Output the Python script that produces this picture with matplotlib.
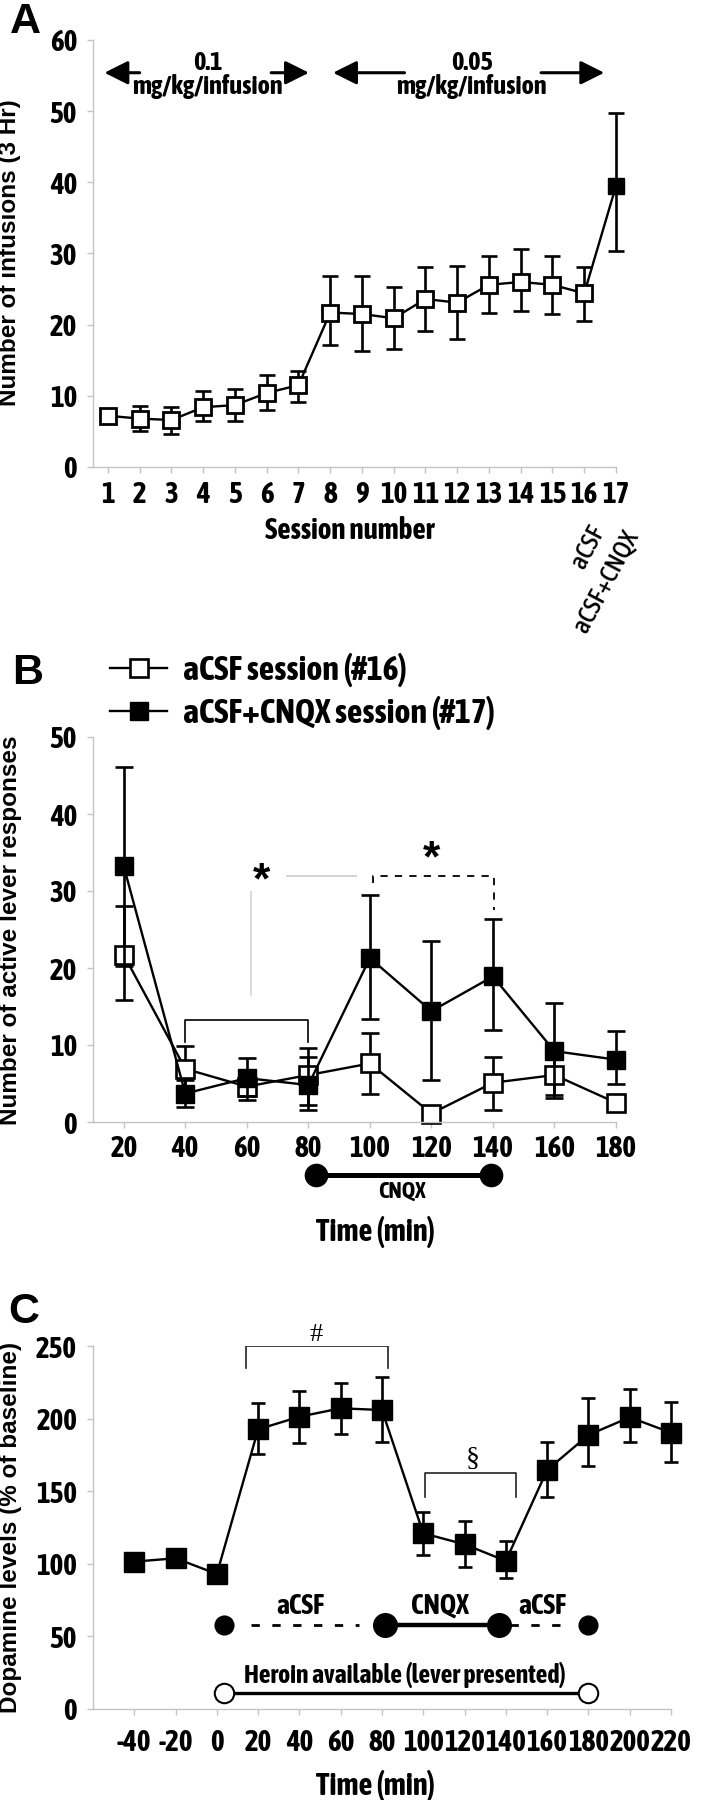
import os
import numpy as np
import matplotlib.pyplot as plt
from matplotlib import font_manager as fm

WIDE = ['Liberation Sans', 'DejaVu Sans']
plt.rcParams['font.family'] = WIDE
plt.rcParams['font.weight'] = 'bold'
plt.rcParams['axes.unicode_minus'] = False

# the figure uses a narrow face for most labels; look for one
font_files = sorted(set(fm.findSystemFonts() + [f.fname for f in fm.fontManager.ttflist]))


def find_face(names):
    for name in names:
        hits = [f for f in font_files if os.path.basename(f) == name]
        if hits:
            return hits[0]
    return None


narrow_bold = find_face(['LiberationSansNarrow-Bold.ttf', 'AsapCondensed-Bold.ttf'])
narrow_medium = find_face(['LiberationSansNarrow-Regular.ttf', 'AsapCondensed-Medium.ttf'])


def nfont(size, face=None):
    face = face or narrow_bold
    if face:
        return fm.FontProperties(fname=face, size=size)
    return fm.FontProperties(family=WIDE, weight='bold', size=size * 0.84)


# ---- panel A: infusions per session ----
sessions = np.arange(1, 18)
infusions = np.array([7.2, 6.8, 6.6, 8.4, 8.7, 10.4, 11.5, 21.7, 21.5, 20.9,
                      23.6, 23.1, 25.6, 26.0, 25.6, 24.4, 39.5])
inf_hi = np.array([7.9, 8.6, 8.4, 10.7, 11.0, 12.9, 13.5, 26.8, 26.8, 25.3,
                   28.1, 28.2, 29.6, 30.6, 29.6, 28.1, 49.8])
inf_lo = np.array([6.5, 5.0, 4.7, 6.4, 6.4, 8.0, 9.2, 17.1, 16.3, 16.6,
                   19.1, 18.0, 21.6, 21.9, 21.5, 20.5, 30.4])

# ---- panel B: active lever responses ----
times_b = np.array([20, 40, 60, 80, 100, 120, 140, 160, 180])
acsf = np.array([21.7, 6.9, 4.6, 6.1, 7.6, 1.1, 5.1, 6.1, 2.5])
acsf_hi = np.array([28.0, 9.9, 6.3, 9.6, 11.5, 1.6, 8.5, 9.0, 3.0])
acsf_lo = np.array([15.8, 4.0, 2.9, 2.2, 3.7, 0.6, 1.6, 3.1, 2.0])
cnqx = np.array([33.2, 3.7, 5.7, 4.8, 21.3, 14.4, 18.9, 9.2, 8.1])
cnqx_hi = np.array([46.1, 5.4, 8.3, 8.5, 29.5, 23.5, 26.3, 15.5, 11.8])
cnqx_lo = np.array([20.3, 2.0, 3.4, 1.6, 13.4, 5.5, 12.0, 3.5, 5.0])

# ---- panel C: dopamine ----
times_c = np.array([-40, -20, 0, 20, 40, 60, 80, 100, 120, 140, 160, 180, 200, 220])
dopamine = np.array([101.5, 103.8, 93, 192.6, 201.3, 207.1, 205.9, 121, 113.4,
                     102, 164.6, 188.7, 200.9, 190.3])
da_hi = np.array([104, 106, 96, 210.5, 219.2, 224.8, 228.5, 135.9, 129.5,
                  116, 183.8, 214, 220.2, 211.6])
da_lo = np.array([99, 101.5, 90, 175.6, 183, 189.3, 183.8, 106, 98,
                  90.3, 146.3, 167.3, 183.8, 170.3])
c_ticklabels = ['-40', '-20', '0', '20', '40', '60', '80', '100', '120',
                '140', '160', '180', '200', '220']

GRAY = '#c4c4c4'
W, H = 702, 1800


def style_axis(ax, xpad, ypad=7):
    for s in ['top', 'right']:
        ax.spines[s].set_visible(False)
    for s in ['left', 'bottom']:
        ax.spines[s].set_color(GRAY)
        ax.spines[s].set_linewidth(1.0)
    ax.tick_params(axis='both', colors=GRAY, labelcolor='black',
                   direction='out', length=4.5, width=1.0)
    ax.tick_params(axis='x', pad=xpad)
    ax.tick_params(axis='y', pad=ypad)
    for lab in ax.get_xticklabels() + ax.get_yticklabels():
        lab.set_fontproperties(nfont(21))


def box(left, top, right, bottom):
    return [left / W, 1 - bottom / H, (right - left) / W, (bottom - top) / H]


fig = plt.figure(figsize=(7.02, 18), dpi=100)

# ================= A =================
ax = fig.add_axes(box(93, 40, 616, 467))
ax.errorbar(sessions, infusions, yerr=[infusions - inf_lo, inf_hi - infusions],
            fmt='none', ecolor='black', elinewidth=1.9, capsize=6, capthick=1.9,
            clip_on=False)
ax.plot(sessions, infusions, color='black', lw=1.7, clip_on=False)
ax.plot(sessions[:-1], infusions[:-1], 's', ms=11, mfc='white', mec='black',
        mew=2, clip_on=False)
ax.plot(sessions[-1:], infusions[-1:], 's', ms=11, mfc='black', mec='black',
        clip_on=False)
ax.set_xlim(0.53, 17.0)
ax.set_ylim(0, 60)
ax.set_xticks(sessions)
ax.set_yticks(range(0, 61, 10))
style_axis(ax, xpad=5)

arrow = dict(arrowstyle='-|>,head_length=0.6,head_width=0.3', color='black',
             lw=2.2, shrinkA=0, shrinkB=0, mutation_scale=24)
ax.annotate('', xy=(0.89, 55.4), xytext=(2.0, 55.4), arrowprops=arrow)
ax.annotate('', xy=(7.33, 55.4), xytext=(6.14, 55.4), arrowprops=arrow)
ax.annotate('', xy=(8.09, 55.4), xytext=(10.34, 55.4), arrowprops=arrow)
ax.annotate('', xy=(16.63, 55.4), xytext=(14.64, 55.4), arrowprops=arrow)
ax.text(4.15, 55.2, '0.1\nmg/kg/infusion', ha='center', va='center',
        fontproperties=nfont(19), linespacing=0.95)
ax.text(12.45, 55.2, '0.05\nmg/kg/infusion', ha='center', va='center',
        fontproperties=nfont(19), linespacing=0.95)
ax.text(16.1, -7.6, 'aCSF', rotation=62, rotation_mode='anchor', ha='right',
        va='top', fontproperties=nfont(18.5, narrow_medium), clip_on=False)
ax.text(17.15, -8.2, 'aCSF+CNQX', rotation=62, rotation_mode='anchor', ha='right',
        va='top', fontproperties=nfont(18.5, narrow_medium), clip_on=False)
fig.text(350 / W, 1 - 530 / H, 'Session number', ha='center', va='center',
         fontproperties=nfont(21))
fig.text(10 / W, 1 - 253 / H, 'Number of infusions (3 Hr)', rotation=90,
         ha='center', va='center', fontsize=17.5)
fig.text(10 / W, 1 - 33 / H, 'A', fontsize=31, va='baseline')

# ================= B =================
ax = fig.add_axes(box(93, 737, 616, 1122))
ax.errorbar(times_b, acsf, yerr=[acsf - acsf_lo, acsf_hi - acsf], fmt='none',
            ecolor='black', elinewidth=1.9, capsize=6.5, capthick=1.9, clip_on=False)
ax.plot(times_b, acsf, '-s', color='black', lw=1.7, ms=13, mfc='white', mec='black',
        mew=1.9, clip_on=False, label='aCSF session (#16)')
ax.errorbar(times_b, cnqx, yerr=[cnqx - cnqx_lo, cnqx_hi - cnqx], fmt='none',
            ecolor='black', elinewidth=1.9, capsize=6.5, capthick=1.9, clip_on=False)
ax.plot(times_b, cnqx, '-s', color='black', lw=1.7, ms=13, mfc='black', mec='black',
        clip_on=False, label='aCSF+CNQX session (#17)')
ax.set_xlim(10, 180)
ax.set_ylim(0, 50)
ax.set_xticks(times_b)
ax.set_yticks(range(0, 51, 10))
style_axis(ax, xpad=4)

# significance marks
ax.plot([40, 40, 80, 80], [10.4, 13.3, 13.3, 10.4], color='black', lw=1.2)
ax.plot([100.9, 100.9, 140.3, 140.3], [31.0, 32.0, 32.0, 27.5], color='black',
        lw=1.3, ls=(0, (4, 4)))
ax.plot([72.9, 95.4], [32.0, 32.0], color='#d4d4d4', lw=1.5)
ax.plot([61.3, 61.3], [29.9, 16.5], color='#d4d4d4', lw=1.2)
ax.text(64.6, 31.2, '*', ha='center', va='center', fontsize=32)
ax.text(120, 34.0, '*', ha='center', va='center', fontsize=32)

# CNQX infusion bar under the axis
ax.plot([82.6, 139.3], [-6.9, -6.9], '-o', color='black', lw=3.6, ms=16,
        clip_on=False)
ax.text(110.3, -9.1, 'CNQX', ha='center', va='center', fontproperties=nfont(16.5),
        clip_on=False)

ax.legend(loc='upper left', bbox_to_anchor=(109.6 / W, 1 - 653 / H),
          bbox_transform=fig.transFigure, frameon=False, prop=nfont(24.5),
          handlelength=1.7, handletextpad=0.45, labelspacing=0.25,
          borderpad=0, borderaxespad=0)
fig.text(376 / W, 1 - 1232 / H, 'Time (min)', ha='center', va='center',
         fontproperties=nfont(22))
fig.text(11 / W, 1 - 930 / H, 'Number of active lever responses', rotation=90,
         ha='center', va='center', fontsize=17.5)
fig.text(12 / W, 1 - 684 / H, 'B', fontsize=31, va='baseline')

# ================= C =================
ax = fig.add_axes(box(93, 1346, 671, 1709))
ax.errorbar(times_c, dopamine, yerr=[dopamine - da_lo, da_hi - dopamine],
            fmt='none', ecolor='black', elinewidth=1.9, capsize=5, capthick=1.9,
            clip_on=False)
ax.plot(times_c, dopamine, '-s', color='black', lw=1.7, ms=15, mfc='black',
        mec='black', clip_on=False)
ax.set_xlim(-60, 220)
ax.set_ylim(0, 250)
ax.set_xticks(times_c)
ax.set_xticklabels(c_ticklabels)
ax.set_yticks(range(0, 251, 50))
style_axis(ax, xpad=9)

# brackets
ax.plot([14.2, 14.2, 82.8, 82.8], [235, 250, 250, 235], color='#222222', lw=1.2)
ax.text(48, 257.5, '#', ha='center', va='center', fontsize=19,
        family='Liberation Serif', fontweight='normal')
ax.plot([100.8, 100.8, 145.1, 145.1], [146, 162.7, 162.7, 146], color='#222222',
        lw=1.2)
ax.text(124, 172, '\u00a7', ha='center', va='center', fontsize=20,
        family='Liberation Serif', fontweight='normal')

# infusion schedule
ax.plot([16.4, 69.1], [57.9, 57.9], color='black', lw=2, ls=(0, (3, 4.5)))
ax.plot([142, 168.3], [57.9, 57.9], color='black', lw=2, ls=(0, (3, 4.5)))
ax.plot([81.4, 136.7], [57.9, 57.9], '-o', color='black', lw=3.2, ms=17)
ax.plot([3.7, 180], [57.9, 57.9], 'o', color='black', ms=13.5)
ax.text(40.6, 70.5, 'aCSF', ha='center', va='center', fontproperties=nfont(20))
ax.text(108.2, 70.5, 'CNQX', ha='center', va='center', fontproperties=nfont(20))
ax.text(157.8, 70.5, 'aCSF', ha='center', va='center', fontproperties=nfont(20))

# heroin availability
ax.plot([3.7, 180], [11.3, 11.3], '-o', color='black', lw=2.4, ms=14,
        mfc='white', mec='black', mew=1.5)
ax.text(91.3, 23.4, 'Heroin available (lever presented)', ha='center',
        va='center', fontproperties=nfont(18.5))

fig.text(376 / W, 1 - 1786 / H, 'Time (min)', ha='center', va='center',
         fontproperties=nfont(22))
fig.text(11 / W, 1 - 1527 / H, 'Dopamine levels (% of baseline)', rotation=90,
         ha='center', va='center', fontsize=17.5)
fig.text(8 / W, 1 - 1323 / H, 'C', fontsize=31, va='baseline')

fig.savefig('out.png', dpi=100)
